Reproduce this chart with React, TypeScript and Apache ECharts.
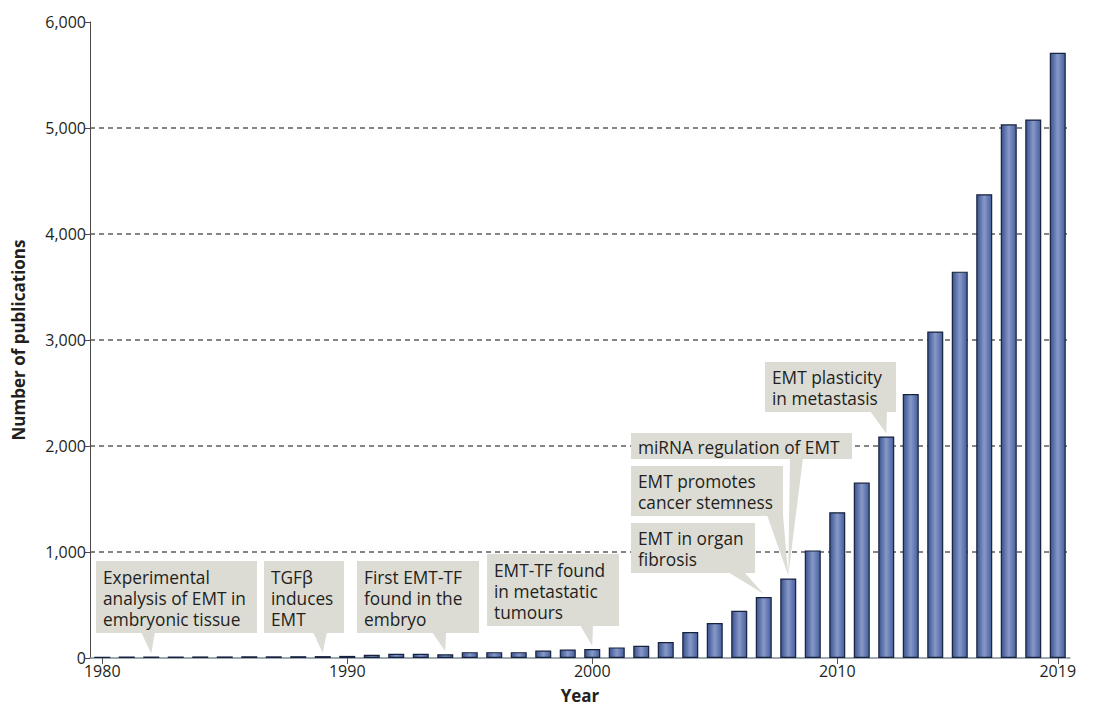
import React, { useEffect, useRef } from "react";
import * as echarts from "echarts";

const years = [
  "1980", "1981", "1982", "1983", "1984", "1985", "1986", "1987", "1988", "1989",
  "1990", "1991", "1992", "1993", "1994", "1995", "1996", "1997", "1998", "1999",
  "2000", "2001", "2002", "2003", "2004", "2005", "2006", "2007", "2008", "2009",
  "2010", "2011", "2012", "2013", "2014", "2015", "2016", "2017", "2018", "2019",
];
const publications = [
  12, 13, 14, 14, 15, 15, 16, 16, 17, 18,
  20, 30, 40, 40, 35, 55, 55, 55, 70, 80,
  85, 100, 115, 150, 245, 330, 445, 575, 750, 1015,
  1375, 1655, 2090, 2490, 3080, 3645, 4375, 5035, 5080, 5710,
];
const labeledYears = ["1980", "1990", "2000", "2010", "2019"];

const annotationTexts = [
  "Experimental\nanalysis of EMT in\nembryonic tissue",
  "TGFβ\ninduces\nEMT",
  "First EMT-TF\nfound in the\nembryo",
  "EMT-TF found\nin metastatic\ntumours",
  "EMT in organ\nfibrosis",
  "EMT promotes\ncancer stemness",
  "miRNA regulation of EMT",
  "EMT plasticity\nin metastasis",
];
const annotationYears = ["1982", "1989", "1994", "2000", "2007", "2008", "2008", "2012"];

// layout of the callout boxes: [left, top, width, height, pointerBaseLeft, pointerBaseRight]
const annotationLayout = [
  [96, 561, 161, 72, 141, 155],
  [264, 561, 80, 72, 313, 327],
  [357, 561, 122, 72, 432, 446],
  [487, 554, 132, 72, 580, 593],
  [631, 523, 124, 50, 728, 744],
  [631, 466, 152, 50, 767, 783],
  [631, 433, 221, 26, 790, 803],
  [765, 362, 131, 50, 870, 887],
];

const FONT = "'Open Sans', 'Noto Sans', sans-serif";
const TEXT = "#231f20";
const BOX = "#dcdcd5";

export default function App() {
  const ref = useRef<HTMLDivElement>(null);
  useEffect(() => {
    if (!ref.current) return;
    const chart = echarts.init(ref.current, undefined, { renderer: "svg" });
    const showLabel = (_i: number, v: string) => labeledYears.includes(v);
    chart.setOption({
      animation: false,
      backgroundColor: "#ffffff",
      textStyle: { fontFamily: FONT },
      grid: { left: 90, right: 26, top: 22, bottom: 48, containLabel: false },
      xAxis: {
        type: "category",
        data: years,
        boundaryGap: true,
        name: "Year",
        nameLocation: "middle",
        nameGap: 29,
        nameTextStyle: { fontFamily: FONT, fontSize: 17, fontWeight: "bold", color: TEXT },
        axisLine: { show: true, lineStyle: { color: "#7f8f99", width: 1.5 } },
        axisTick: { show: true, alignWithLabel: true, interval: showLabel, length: 6, lineStyle: { color: "#555" } },
        axisLabel: { interval: showLabel, fontFamily: FONT, fontSize: 16, color: TEXT, margin: 5 },
        splitLine: { show: false },
      },
      yAxis: {
        type: "value",
        min: 0,
        max: 6000,
        interval: 1000,
        name: "Number of publications",
        nameLocation: "middle",
        nameGap: 63,
        nameRotate: 90,
        nameTextStyle: { fontFamily: FONT, fontSize: 17, fontWeight: "bold", color: TEXT },
        axisLine: { show: true, lineStyle: { color: "#4a4a4a", width: 1 } },
        axisTick: { show: true, length: 5, lineStyle: { color: "#4a4a4a" } },
        axisLabel: {
          fontFamily: FONT,
          fontSize: 16,
          color: TEXT,
          margin: 4,
          formatter: (v: number) => v.toLocaleString("en-US"),
        },
        splitLine: {
          show: true,
          lineStyle: {
            color: ["rgba(0,0,0,0)", "#5e5e5e", "#5e5e5e", "#5e5e5e", "#5e5e5e", "#5e5e5e", "rgba(0,0,0,0)"],
            type: [5, 4],
            width: 1.5,
          },
        },
      },
      series: [
        {
          type: "bar",
          data: publications,
          barWidth: 16,
          z: 3,
          itemStyle: {
            borderColor: "#17223e",
            borderWidth: 1.2,
            color: new echarts.graphic.LinearGradient(0, 0, 1, 0, [
              { offset: 0, color: "#3a5290" },
              { offset: 0.5, color: "#8799c8" },
              { offset: 1, color: "#465e9d" },
            ]),
          },
        },
      ],
    });

    const elements: any[] = [];
    annotationTexts.forEach((txt, i) => {
      const [left, top, w, h, b1, b2] = annotationLayout[i];
      const yearIdx = years.indexOf(annotationYears[i]);
      const tip = chart.convertToPixel({ xAxisIndex: 0, yAxisIndex: 0 }, [yearIdx, publications[yearIdx]]) as number[];
      const tipX = tip[0];
      const tipY = tip[1] - 3;
      const n = txt.split("\n").length;
      const lh = 21;
      elements.push({
        type: "polygon",
        z: 10,
        shape: { points: [[b1, top + h - 1], [b2, top + h - 1], [tipX, tipY]] },
        style: { fill: BOX },
      });
      elements.push({
        type: "rect",
        z: 10,
        shape: { x: left, y: top, width: w, height: h },
        style: { fill: BOX },
      });
      elements.push({
        type: "text",
        z: 11,
        style: {
          text: txt,
          x: left + 7,
          y: top + (h - n * lh) / 2 + 1,
          fontFamily: FONT,
          fontSize: 17.3,
          lineHeight: lh,
          fill: TEXT,
          verticalAlign: "top",
          align: "left",
        },
      });
    });
    chart.setOption({ graphic: elements });

    return () => chart.dispose();
  }, []);
  return (
    <div
      ref={ref}
      style={{ position: "fixed", left: 0, top: 0, width: 1096, height: 709, background: "#fff" }}
    />
  );
}
